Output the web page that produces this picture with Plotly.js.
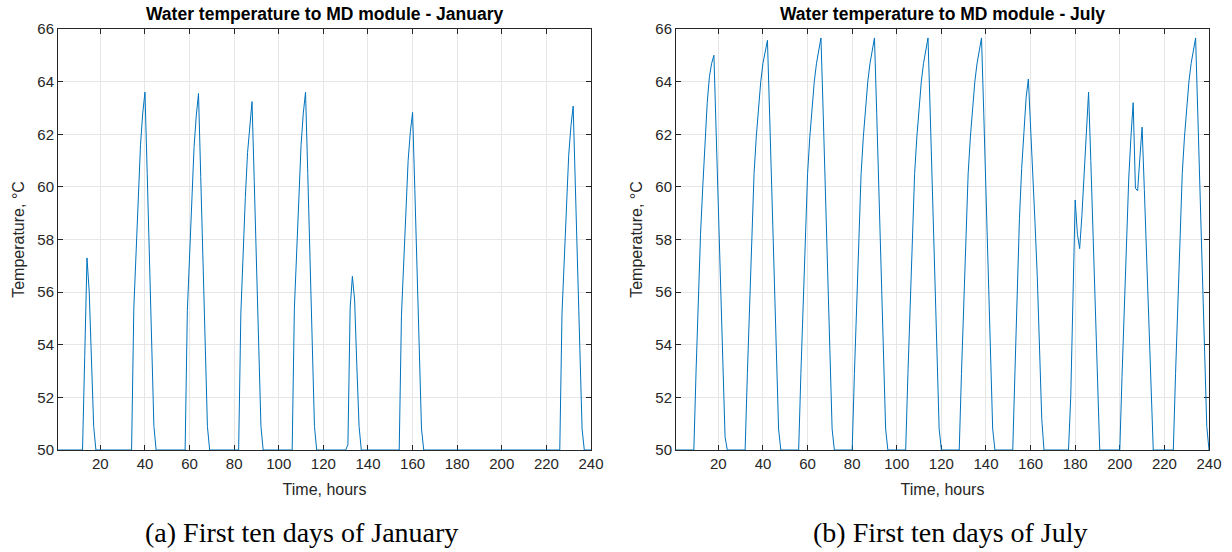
<!DOCTYPE html>
<html>
<head>
<meta charset="utf-8">
<script src="https://cdn.plot.ly/plotly-3.0.1.min.js"></script>
<style>
  html, body { margin: 0; padding: 0; background: #ffffff; }
  #chart { width: 1232px; height: 552px; }
</style>
</head>
<body>
<div id="chart"></div>
<script>
// Hourly water temperature (°C) to the MD module, hours 1..240
// First ten days of January (one row per day, 24 hourly values)
var januaryTemp = [
  50,50,50,50,50,50,50,50,50,50,50,50,53.6,57.3,56.0,53.2,50.9,50,50,50,50,50,50,50,
  50,50,50,50,50,50,50,50,50,50,55.4,57.7,59.9,61.6,62.8,63.6,60.5,57.3,54.0,50.9,50,50,50,50,
  50,50,50,50,50,50,50,50,50,50,55.3,57.6,59.8,61.5,62.7,63.55,60.4,57.2,54.0,50.9,50,50,50,50,
  50,50,50,50,50,50,50,50,50,50,55.2,57.5,59.6,61.3,62.4,63.24,60.2,57.0,53.9,50.9,50,50,50,50,
  50,50,50,50,50,50,50,50,50,50,55.4,57.7,59.9,61.6,62.8,63.6,60.5,57.3,54.0,50.9,50,50,50,50,
  50,50,50,50,50,50,50,50,50,50,50.2,55.4,56.6,55.7,53.2,50.9,50,50,50,50,50,50,50,50,
  50,50,50,50,50,50,50,50,50,50,55.1,57.3,59.4,61.0,62.1,62.83,59.9,56.8,53.8,50.8,50,50,50,50,
  50,50,50,50,50,50,50,50,50,50,50,50,50,50,50,50,50,50,50,50,50,50,50,50,
  50,50,50,50,50,50,50,50,50,50,50,50,50,50,50,50,50,50,50,50,50,50,50,50,
  50,50,50,50,50,50,50,50,50,50,55.2,57.4,59.5,61.2,62.3,63.07,60.0,56.9,53.8,50.8,50,50,50,50
];
// First ten days of July
var julyTemp = [
  50,50,50,50,50,50,50,50,50,53.0,55.8,58.2,60.0,61.8,63.2,64.2,64.7,65.0,62.0,59.0,56.0,53.1,50.5,50,
  50,50,50,50,50,50,50,50,52.9,55.7,58.5,60.5,61.9,63.1,64.0,64.7,65.2,65.57,62.7,59.7,56.8,53.8,50.8,50,
  50,50,50,50,50,50,50,50,52.9,55.7,58.5,60.5,61.9,63.1,64.0,64.7,65.2,65.66,62.8,59.8,56.8,53.8,50.8,50,
  50,50,50,50,50,50,50,50,52.9,55.7,58.5,60.5,61.9,63.1,64.0,64.7,65.2,65.66,62.8,59.8,56.8,53.8,50.8,50,
  50,50,50,50,50,50,50,50,52.9,55.7,58.5,60.5,61.9,63.1,64.0,64.7,65.2,65.66,62.8,59.8,56.8,53.8,50.8,50,
  50,50,50,50,50,50,50,50,52.9,55.7,58.5,60.5,61.9,63.1,64.0,64.7,65.2,65.66,62.8,59.8,56.8,53.8,50.8,50,
  50,50,50,50,50,50,50,50,53.0,56.0,58.8,60.7,62.3,63.4,64.1,62.4,60.5,58.6,56.6,53.9,51.2,50,50,50,
  50,50,50,50,50,50,50,50,50,52.0,55.6,59.5,58.2,57.65,58.9,60.5,62.0,63.6,61.0,58.3,55.5,52.8,50,50,
  50,50,50,50,50,50,50,50,52.8,55.6,58.2,60.3,61.9,63.2,59.95,59.85,61.1,62.27,59.9,57.5,55.0,52.5,50,50,
  50,50,50,50,50,50,50,50,52.9,55.7,58.5,60.5,61.9,63.1,64.0,64.7,65.2,65.66,62.7,59.7,56.8,53.8,50.9,50
];
var hours = januaryTemp.map(function (_, i) { return i + 1; });

var xTicks = [20, 40, 60, 80, 100, 120, 140, 160, 180, 200, 220, 240];
var yTicks = [50, 52, 54, 56, 58, 60, 62, 64, 66];
var titles = ['Water temperature to MD module - January', 'Water temperature to MD module - July'];
var captions = ['(a) First ten days of January', '(b) First ten days of July'];
var xLabel = 'Time, hours';
var yLabel = 'Temperature, \u00B0C';

var lineColor = '#0072BD';
var axisColor = '#262626';
var gridColor = '#e6e6e6';
var sans = '"Liberation Sans", Arial, Helvetica, sans-serif';
var serif = '"Liberation Serif", "Times New Roman", serif';

var traces = [
  { x: hours, y: januaryTemp, type: 'scatter', mode: 'lines', xaxis: 'x', yaxis: 'y',
    line: { color: lineColor, width: 1 }, cliponaxis: false, hoverinfo: 'x+y' },
  { x: hours, y: julyTemp, type: 'scatter', mode: 'lines', xaxis: 'x2', yaxis: 'y2',
    line: { color: lineColor, width: 1 }, cliponaxis: false, hoverinfo: 'x+y' }
];

var W = 1232, H = 552;
var plotTop = 29, plotBottom = 450;
var leftX = [58, 591], rightX = [676, 1209];
var yDom = [(H - plotBottom) / H, (H - plotTop) / H];

function xAxis(dom, anchor) {
  return {
    domain: [dom[0] / W, dom[1] / W], anchor: anchor,
    range: [1, 240], tickmode: 'array', tickvals: xTicks,
    ticks: 'inside', ticklen: 5, tickcolor: axisColor, tickwidth: 1,
    showline: true, linecolor: axisColor, linewidth: 1, mirror: 'ticks',
    showgrid: true, gridcolor: gridColor, gridwidth: 1, zeroline: false,
    tickfont: { family: sans, size: 15, color: axisColor },
    title: { text: xLabel, font: { family: sans, size: 16, color: axisColor }, standoff: 12 },
    layer: 'below traces', fixedrange: true
  };
}
function yAxis(anchor) {
  return {
    domain: yDom, anchor: anchor,
    range: [50, 66], tickmode: 'array', tickvals: yTicks,
    ticks: 'inside', ticklen: 5, tickcolor: axisColor, tickwidth: 1,
    showline: true, linecolor: axisColor, linewidth: 1, mirror: 'ticks',
    showgrid: true, gridcolor: gridColor, gridwidth: 1, zeroline: false,
    tickfont: { family: sans, size: 15, color: axisColor },
    title: { text: yLabel, font: { family: sans, size: 16, color: axisColor }, standoff: 8 },
    layer: 'below traces', fixedrange: true
  };
}

var annotations = [];
[leftX, rightX].forEach(function (dom, i) {
  var cx = (dom[0] + dom[1]) / 2 / W;
  annotations.push({
    text: '<b>' + titles[i] + '</b>', xref: 'paper', yref: 'paper',
    x: cx, y: (H - 14) / H, xanchor: 'center', yanchor: 'middle', showarrow: false,
    font: { family: sans, size: 17.5, color: '#000000' }
  });
});
var capCenters = [301, 950];
captions.forEach(function (c, i) {
  annotations.push({
    text: c, xref: 'paper', yref: 'paper',
    x: capCenters[i] / W, y: (H - 532) / H, xanchor: 'center', yanchor: 'middle', showarrow: false,
    font: { family: serif, size: 28, color: '#000000' }
  });
});

var layout = {
  width: W, height: H,
  margin: { l: 0, r: 0, t: 0, b: 0 },
  paper_bgcolor: '#ffffff', plot_bgcolor: '#ffffff',
  showlegend: false,
  xaxis: xAxis(leftX, 'y'), yaxis: yAxis('x'),
  xaxis2: xAxis(rightX, 'y2'), yaxis2: yAxis('x2'),
  annotations: annotations
};

Plotly.newPlot('chart', traces, layout, { displayModeBar: false, staticPlot: false });
</script>
</body>
</html>
